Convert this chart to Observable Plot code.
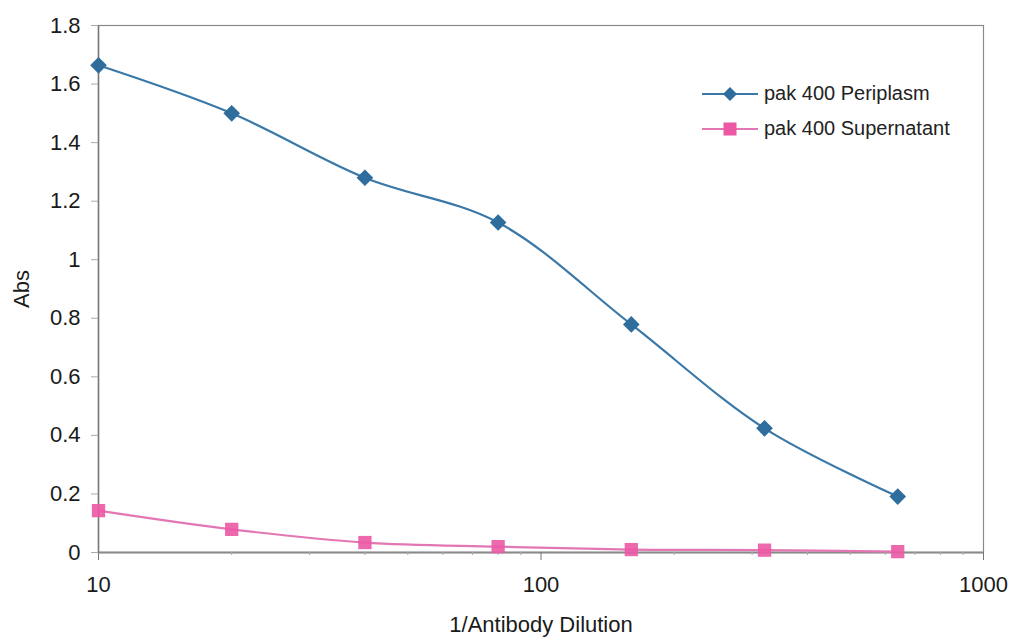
<!DOCTYPE html>
<html>
<head>
<meta charset="utf-8">
<script src="https://cdn.jsdelivr.net/npm/d3@7"></script>
<script src="https://cdn.jsdelivr.net/npm/@observablehq/plot@0.6"></script>
<style>
  html, body { margin: 0; padding: 0; background: #fff; }
  #wrap { position: relative; width: 1010px; height: 638px; font-family: "Liberation Sans", Arial, sans-serif; }
  #legend { position: absolute; left: 700px; top: 76px; font-size: 20px; color: #222; }
  #legend .row { display: flex; align-items: center; height: 35px; }
  #legend svg { margin-right: 4px; }
</style>
</head>
<body>
<div id="wrap"></div>
<script>
const dilution = [10, 20, 40, 80, 160, 320, 640];
const periplasm = [1.664, 1.50, 1.28, 1.127, 0.779, 0.424, 0.191];
const supernatant = [0.143, 0.079, 0.034, 0.02, 0.01, 0.008, 0.003];
const seriesNames = ["pak 400 Periplasm", "pak 400 Supernatant"];
const yTicks = [0, 0.2, 0.4, 0.6, 0.8, 1, 1.2, 1.4, 1.6, 1.8];
const xTicks = [10, 100, 1000];
const xMinorTicks = [20, 30, 40, 50, 60, 70, 80, 90, 200, 300, 400, 500, 600, 700, 800, 900];

const blueLine = "#3a78a8", blueMark = "#2e6d9c";
const pinkLine = "#e377b3", pinkMark = "#ec58a4";

const peri = dilution.map((d, i) => ({x: d, y: periplasm[i]}));
const sup = dilution.map((d, i) => ({x: d, y: supernatant[i]}));

const chart = Plot.plot({
  width: 1010,
  height: 638,
  marginLeft: 98,
  marginTop: 25,
  marginRight: 27,
  marginBottom: 86,
  style: {fontFamily: "Liberation Sans, Arial, sans-serif", fontSize: "22px", color: "#1a1a1a", background: "#fff"},
  x: {type: "log", domain: [10, 1000]},
  y: {domain: [0, 1.8]},
  marks: [
    Plot.frame({stroke: "#8a8a8a", strokeWidth: 1.2}),
    Plot.ruleY([0], {stroke: "#bdbdbd", strokeWidth: 3}),
    Plot.ruleY([0], {stroke: "#8a8a8a", strokeWidth: 1}),
    Plot.ruleX([10], {stroke: "#777", strokeWidth: 1.5}),
    Plot.axisY({ticks: yTicks, tickSize: 7, tickPadding: 11, tickFormat: d => String(+d.toFixed(1)), stroke: "#aaa",
      label: "Abs", labelAnchor: "center", labelOffset: 85, labelArrow: "none"}),
    Plot.axisX({ticks: xTicks, tickSize: 8, tickPadding: 16, tickFormat: d => String(d), stroke: "#777",
      label: "1/Antibody Dilution", labelAnchor: "center", labelOffset: 79, labelArrow: "none"}),
    Plot.axisX({ticks: xMinorTicks, tickSize: 3, tickFormat: () => "", stroke: "#aaa", label: null}),
    Plot.line(sup, {x: "x", y: "y", stroke: pinkLine, strokeWidth: 2.2, curve: "catmull-rom"}),
    Plot.dot(sup, {x: "x", y: "y", symbol: "square", r: 7.5, fill: pinkMark, fillOpacity: 0.9}),
    Plot.line(peri, {x: "x", y: "y", stroke: blueLine, strokeWidth: 2.2, curve: "catmull-rom"}),
    Plot.dot(peri, {x: "x", y: "y", symbol: "diamond2", r: 7.5, fill: blueMark}),
  ]
});
const wrap = document.getElementById("wrap");
wrap.appendChild(chart);

const legend = document.createElement("div");
legend.id = "legend";
const sw = [
  {line: blueLine, mark: blueMark, shape: "diamond"},
  {line: pinkLine, mark: pinkMark, shape: "square"}
];
seriesNames.forEach((name, i) => {
  const row = document.createElement("div");
  row.className = "row";
  const s = sw[i];
  const shape = s.shape === "diamond"
    ? `<path d="M30,10 L37,17 L30,24 L23,17 Z" fill="${s.mark}"/>`
    : `<rect x="23.5" y="10.5" width="13" height="13" fill="${s.mark}"/>`;
  row.innerHTML = `<svg width="60" height="34"><line x1="2" x2="58" y1="17" y2="17" stroke="${s.line}" stroke-width="2.2"/>${shape}</svg><span>${name}</span>`;
  legend.appendChild(row);
});
wrap.appendChild(legend);
</script>
</body>
</html>
